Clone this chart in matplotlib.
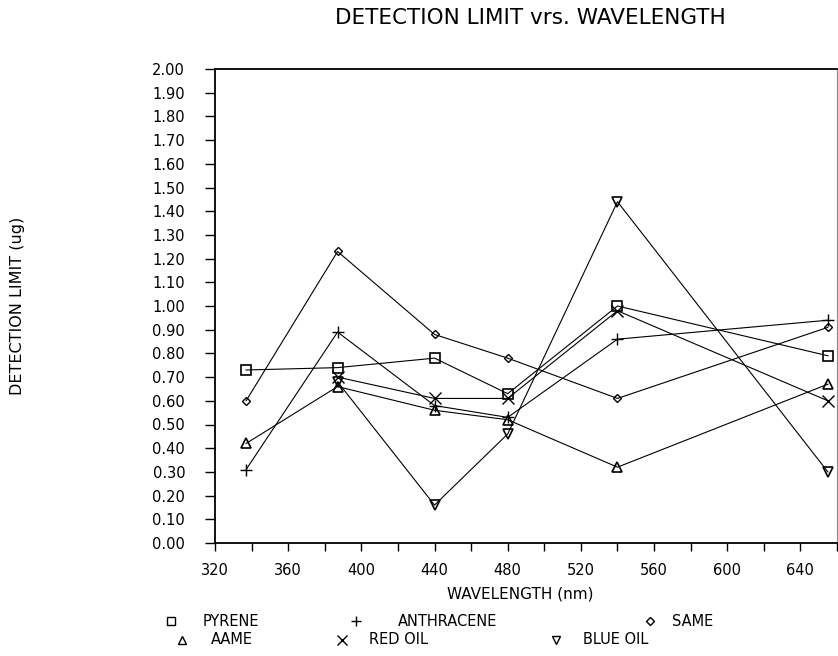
import matplotlib
matplotlib.use("Agg")
import matplotlib.pyplot as plt
from matplotlib.lines import Line2D

W, H = 838, 656

wavelength = [337, 387, 440, 480, 540, 655]
pyrene     = [0.73, 0.74, 0.78, 0.63, 1.00, 0.79]
anthracene = [0.31, 0.89, 0.58, 0.53, 0.86, 0.94]
same       = [0.60, 1.23, 0.88, 0.78, 0.61, 0.91]
aame       = [0.42, 0.66, 0.56, 0.52, 0.32, 0.67]
red_oil_x  = [387, 440, 480, 540, 655]
red_oil    = [0.70, 0.61, 0.61, 0.98, 0.60]
blue_oil_x = [387, 440, 480, 540, 655]
blue_oil   = [0.68, 0.16, 0.46, 1.44, 0.30]

x_ticks = [320, 340, 360, 380, 400, 420, 440, 460, 480, 500, 520, 540, 560, 580, 600, 620, 640, 660]
x_labels = ["320", "", "360", "", "400", "", "440", "", "480", "", "520", "", "560", "", "600", "", "640", ""]
y_ticks = [i / 10 for i in range(21)]
y_labels = [f"{v:.2f}" for v in y_ticks]

series = [
    ("PYRENE", wavelength, pyrene, "s", 7, 1.2),
    ("ANTHRACENE", wavelength, anthracene, "+", 9, 1.0),
    ("SAME", wavelength, same, "D", 4.5, 1.0),
    ("AAME", wavelength, aame, "^", 7, 1.2),
    ("RED OIL", red_oil_x, red_oil, "x", 8, 1.0),
    ("BLUE OIL", blue_oil_x, blue_oil, "v", 7, 1.2),
]

plt.rcParams['font.family'] = ['DejaVu Sans']
fig = plt.figure(figsize=(W / 100, H / 100), dpi=100)

def fx(px):
    return px / W

def fy(py):
    return 1 - py / H

ax = fig.add_axes([fx(215), fy(543), fx(837) - fx(215), fy(69) - fy(543)])

for name, xs, ys, m, ms, mew in series:
    ax.plot(xs, ys, color="black", lw=0.8, marker=m, markersize=ms,
            markerfacecolor="none", markeredgecolor="black", markeredgewidth=mew,
            clip_on=False)

ax.set_xlim(320, 660)
ax.set_ylim(0, 2.0)
ax.set_xticks(x_ticks)
ax.set_xticklabels(x_labels, fontsize=10.5)
ax.set_yticks(y_ticks)
ax.set_yticklabels(y_labels, fontsize=10.5)
ax.tick_params(axis="x", direction="out", length=6, width=1, pad=8.5)
ax.tick_params(axis="y", direction="out", length=7, width=1, pad=14.5)
for s in ["left", "bottom", "top"]:
    ax.spines[s].set_linewidth(1.3)
ax.spines["right"].set_linewidth(0.8)
ax.spines["right"].set_color("#888888")

fig.text(fx(530), fy(18), "DETECTION LIMIT vrs. WAVELENGTH", ha="center", va="center", fontsize=15.5)
fig.text(fx(18), fy(306), "DETECTION LIMIT (ug)", ha="center", va="center", rotation=90, fontsize=11.5)
fig.text(fx(520), fy(594), "WAVELENGTH (nm)", ha="center", va="center", fontsize=11)

legend_pos = {
    "PYRENE": (171, 203, 621),
    "ANTHRACENE": (356, 398, 621),
    "SAME": (650, 672, 621),
    "AAME": (182, 211, 640),
    "RED OIL": (342, 369, 640),
    "BLUE OIL": (556, 583, 640),
}
for name, xs, ys, m, ms, mew in series:
    mx, tx, ty = legend_pos[name]
    fig.add_artist(Line2D([fx(mx)], [fy(ty)], marker=m, markersize=ms * 0.85, color="black",
                          markerfacecolor="none", markeredgewidth=1.0, linestyle="none",
                          transform=fig.transFigure))
    fig.text(fx(tx), fy(ty), name, ha="left", va="center", fontsize=10.5)

fig.savefig("out.png", dpi=100)
